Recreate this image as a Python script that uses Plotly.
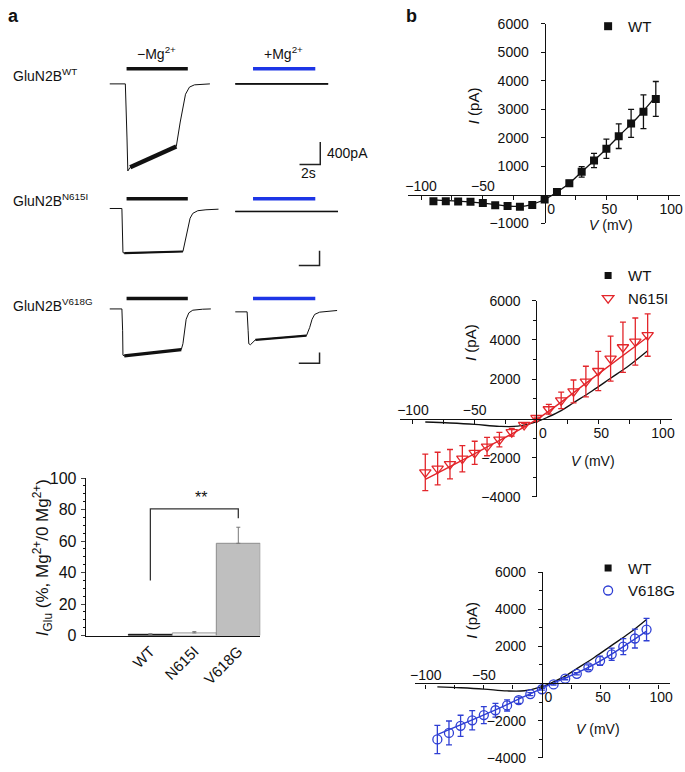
import plotly.graph_objects as go

W, H = 685, 772
FONT = "Liberation Sans, Arial, sans-serif"


def fx(x):
    return x / W


def fy(y):
    return 1 - y / H


# ---------------- DATA ----------------
# Panel a: current traces (time in s, current in pA)
WT_NOMG_T = [0, 1.50, 1.66, 1.74, 1.97, 6.41, 6.79, 7.05, 7.30, 7.68, 8.16, 9.65]
WT_NOMG_I = [0, 0, -962, -1548, -1483, -1113, -678, -388, -184, -57, -17, 0]
WT_MG_T = [0, 8.95]
WT_MG_I = [0, 0]

N615I_NOMG_T = [0, 1.17, 1.27, 1.40, 7.05, 7.30, 7.52, 7.74, 8.0, 8.48, 9.27, 10.48]
N615I_NOMG_I = [0, 0, -1200, -1219, -1173, -845, -488, -267, -133, -61, -35, -19]
N615I_MG_T = [0, 9.9]
N615I_MG_I = [0, 0]

V618G_NOMG_T = [0, 1.17, 1.24, 1.27, 1.40, 6.89, 7.05, 7.21, 7.36, 7.62, 8.0, 8.95, 9.74]
V618G_NOMG_I = [0, 0, -811, -1720, -1745, -1513, -1294, -811, -385, -145, -47, -11, 0]
V618G_MG_T = [0, 1.14, 1.24, 1.30, 1.46, 1.94, 6.86, 7.17, 7.40, 7.65, 8.13, 9.81]
V618G_MG_I = [0, 0, -702, -1185, -1222, -1040, -884, -582, -276, -95, -11, 51]

STIM_NOMG = [1.62, 7.52]   # s, application of glutamate without Mg2+
STIM_MG = [1.71, 7.71]     # s, application with Mg2+
SCALE_T = 2.0              # s
SCALE_I = 400              # pA

# Panel a: bar chart
BAR_CATS = ["WT", "N615I", "V618G"]
BAR_VALS = [0.8, 1.7, 58.6]
BAR_ERR = [0.3, 0.8, 10.2]

# Panel b: I-V relations
V_MV = [-90, -80, -70, -60, -50, -40, -30, -20, -10, 0, 10, 20, 30, 40, 50, 60, 70, 80, 90]
WT_I = [-230, -230, -240, -250, -290, -370, -400, -425, -360, -170, 90, 400, 800, 1200, 1610, 2050, 2500, 2910, 3360]
WT_ERR = [40, 40, 40, 40, 50, 50, 50, 60, 60, 60, 60, 100, 185, 250, 340, 430, 490, 590, 610]
N615I_I = [-2750, -2550, -2330, -2050, -1750, -1430, -1080, -700, -330, 30, 470, 920, 1380, 1880, 2420, 3050, 3630, 3920, 4250]
N615I_ERR = [930, 830, 750, 670, 590, 470, 370, 200, 80, 40, 250, 420, 580, 780, 1000, 1150, 1280, 1200, 1080]
V618G_I = [-3010, -2660, -2280, -1980, -1700, -1440, -1180, -900, -570, -310, -50, 260, 520, 870, 1220, 1570, 1980, 2420, 2900]
V618G_ERR = [760, 640, 570, 520, 460, 370, 300, 170, 80, 50, 40, 60, 60, 130, 250, 330, 430, 510, 600]

WT_FIT_V = [-90, -70, -50, -30, -15, 0, 10, 20, 30, 45, 60, 75, 90]
WT_FIT_I = [-180, -230, -300, -400, -390, -170, 90, 400, 800, 1400, 2050, 2700, 3450]
N615I_FIT_V = [-90, -45, 0, 45, 90]
N615I_FIT_I = [-3100, -1620, -60, 2030, 4150]
V618G_FIT_V = [-90, -45, 0, 45, 90]
V618G_FIT_I = [-2750, -1560, -260, 1030, 2820]

# ---------------- STYLE ----------------
RED = "#e3262b"
BLUE = "#2f3fd4"
STIM_BLUE = "#1d35e6"
BLACK = "#111111"
TICK_SIZE = 14

fig = go.Figure()
layout = dict(
    width=W, height=H, margin=dict(l=0, r=0, t=0, b=0),
    paper_bgcolor="white", plot_bgcolor="rgba(0,0,0,0)",
    font=dict(family=FONT, size=13, color=BLACK),
    showlegend=True,
)
annotations = []
shapes = []

# ---- panel a traces: 6 small invisible axes ----
PX_PER_S = 10.5
cells = [
    # (x dom px, x origin px, y dom px, y origin px, pA per px)
    ((100, 222), 106, (50, 178), 77.6, 400 / 23),
    ((226, 345), 233, (50, 178), 77.6, 400 / 23),
    ((100, 222), 106, (185, 272), 205.0, 400 / 15),
    ((226, 345), 233, (185, 272), 208.0, 400 / 15),
    ((100, 222), 106, (288, 372), 307.7, 400 / 11),
    ((226, 345), 233, (288, 372), 310.7, 400 / 11),
]
for n, (xd, x0, yd, y0, k) in enumerate(cells, start=1):
    layout[f"xaxis{n}"] = dict(
        domain=[fx(xd[0]), fx(xd[1])], anchor=f"y{n}",
        range=[(xd[0] - x0) / PX_PER_S, (xd[1] - x0) / PX_PER_S], visible=False)
    layout[f"yaxis{n}"] = dict(
        domain=[fy(yd[1]), fy(yd[0])], anchor=f"x{n}",
        range=[-(yd[1] - y0) * k, (y0 - yd[0]) * k], visible=False)

trace_sets = [
    (1, WT_NOMG_T, WT_NOMG_I, (4, 6), 4.5),
    (2, WT_MG_T, WT_MG_I, (0, 2), 1.8),
    (3, N615I_NOMG_T, N615I_NOMG_I, (3, 5), 2.2),
    (4, N615I_MG_T, N615I_MG_I, (0, 2), 1.5),
    (5, V618G_NOMG_T, V618G_NOMG_I, (4, 6), 3.2),
    (6, V618G_MG_T, V618G_MG_I, (5, 7), 2.4),
]
for n, t, i, (a, b), wnoise in trace_sets:
    fig.add_trace(go.Scatter(x=t, y=i, mode="lines", line=dict(color=BLACK, width=1),
                             xaxis=f"x{n}", yaxis=f"y{n}", showlegend=False, hoverinfo="skip"))
    fig.add_trace(go.Scatter(x=t[a:b], y=i[a:b], mode="lines", line=dict(color=BLACK, width=wnoise),
                             xaxis=f"x{n}", yaxis=f"y{n}", showlegend=False, hoverinfo="skip"))

# stimulus bars
bar_rows_y = [62, 195, 297]
for r, ypx in enumerate(bar_rows_y):
    nl, nr = 2 * r + 1, 2 * r + 2
    shapes.append(dict(type="line", xref=f"x{nl}", yref="paper", x0=STIM_NOMG[0], x1=STIM_NOMG[1],
                       y0=fy(ypx), y1=fy(ypx), line=dict(color=BLACK, width=3.5)))
    shapes.append(dict(type="line", xref=f"x{nr}", yref="paper", x0=STIM_MG[0], x1=STIM_MG[1],
                       y0=fy(ypx), y1=fy(ypx), line=dict(color=STIM_BLUE, width=3.5)))

# scale bars (corner position in data units of right-column axes)
scale_corners = [(2, 8.19, -1433), (4, 8.12, -1475), (6, 8.12, -1913)]
for n, tc, ic in scale_corners:
    fig.add_trace(go.Scatter(x=[tc - SCALE_T, tc, tc], y=[ic, ic, ic + SCALE_I], mode="lines",
                             line=dict(color="#222", width=1.5), xaxis=f"x{n}", yaxis=f"y{n}",
                             showlegend=False, hoverinfo="skip"))

annotations += [
    dict(text="<b>a</b>", x=fx(1), y=fy(8), xanchor="left", yanchor="middle", font=dict(size=18)),
    dict(text="<b>b</b>", x=fx(404), y=fy(8), xanchor="left", yanchor="middle", font=dict(size=18)),
    dict(text="\u2212Mg<sup>2+</sup>", x=fx(153), y=fy(46), xanchor="center", yanchor="middle", font=dict(size=14)),
    dict(text="+Mg<sup>2+</sup>", x=fx(282), y=fy(46), xanchor="center", yanchor="middle", font=dict(size=14)),
    dict(text="GluN2B<sup>WT</sup>", x=fx(6), y=fy(68), xanchor="left", yanchor="middle", font=dict(size=14)),
    dict(text="GluN2B<sup>N615I</sup>", x=fx(6), y=fy(196), xanchor="left", yanchor="middle", font=dict(size=14)),
    dict(text="GluN2B<sup>V618G</sup>", x=fx(6), y=fy(304), xanchor="left", yanchor="middle", font=dict(size=14)),
    dict(text="400pA", x=fx(324), y=fy(148), xanchor="left", yanchor="middle", font=dict(size=14)),
    dict(text="2s", x=fx(307), y=fy(169), xanchor="center", yanchor="middle", font=dict(size=14)),
]

# ---- bar chart ----
layout["xaxis7"] = dict(domain=[fx(81.7), fx(258.3)], anchor="y7", range=[-1.47, 2.5],
                        type="category", showline=True, linecolor=BLACK, linewidth=1.2,
                        ticks="", tickangle=-45, tickfont=dict(size=15), showgrid=False, zeroline=False)
layout["yaxis7"] = dict(domain=[fy(641.7), fy(480.7)], anchor="x7", range=[0, 100],
                        showline=True, linecolor=BLACK, linewidth=1.2, ticks="outside", ticklen=4,
                        tickvals=[0, 20, 40, 60, 80, 100], tickfont=dict(size=16), showgrid=False,
                        zeroline=False, ticklabelstandoff=1,
                        minor=dict(tickvals=[5, 10, 15, 25, 30, 35, 45, 50, 55, 65, 70, 75, 85, 90, 95],
                                   ticks="outside", ticklen=2, tickcolor=BLACK))
fig.add_trace(go.Bar(x=BAR_CATS, y=BAR_VALS, width=1, xaxis="x7", yaxis="y7", showlegend=False,
                     marker=dict(color=["#111111", "#f2f2f2", "#bfbfbf"],
                                 line=dict(color=["#111111", "#9a9a9a", "#8c8c8c"], width=1)),
                     error_y=dict(type="data", array=BAR_ERR, arrayminus=[0, 0, 0], color="#777",
                                  thickness=1, width=2),
                     hoverinfo="skip"))
fig.add_trace(go.Scatter(x=["WT", "WT", "V618G", "V618G"], y=[35, 80.4, 80.4, 74.5], mode="lines",
                         line=dict(color="#333", width=1.3), xaxis="x7", yaxis="y7",
                         showlegend=False, hoverinfo="skip"))
annotations += [
    dict(text="**", x=1.15, y=88, xref="x7", yref="y7", showarrow=False, font=dict(size=16),
         xanchor="center", yanchor="middle"),
    dict(text="<i>I</i><sub>Glu</sub> (%, Mg<sup>2+</sup>/0 Mg<sup>2+</sup>)", x=fx(38), y=fy(562),
         textangle=-90, xanchor="center", yanchor="middle", font=dict(size=17)),
]


# ---- panel b: I-V plots ----
def iv_axes(nx, ny, nover, xdom, ydom, xr, yr, x0px, y0px, ytv, ytt, yminor):
    layout[f"xaxis{nx}"] = dict(
        domain=[fx(xdom[0]), fx(xdom[1])], anchor="free", position=fy(y0px), range=xr,
        showline=True, linecolor=BLACK, linewidth=1.1, ticks="outside", ticklen=4, tickcolor=BLACK,
        tickvals=[0, 50, 100], ticktext=["\u20020", "50", "100"],
        tickfont=dict(size=TICK_SIZE), ticklabelshift=3,
        minor=dict(tickvals=[-100, -75, -50, -25, 25, 75], ticks="outside", ticklen=4, tickcolor=BLACK),
        showgrid=False, zeroline=False, ticklabelstandoff=-3)
    layout[f"xaxis{nover}"] = dict(
        overlaying=f"x{nx}", anchor="free", position=fy(y0px), side="top", range=xr,
        showline=False, ticks="", tickvals=[-100, -50], ticktext=["\u2212100", "\u221250"],
        tickfont=dict(size=TICK_SIZE), showgrid=False, zeroline=False, ticklabelstandoff=1)
    ydict = dict(
        domain=[fy(ydom[1]), fy(ydom[0])], anchor="free", position=fx(x0px), range=yr,
        showline=True, linecolor=BLACK, linewidth=1.1, ticks="outside", ticklen=4, tickcolor=BLACK,
        tickvals=ytv, ticktext=ytt, tickfont=dict(size=TICK_SIZE), showgrid=False, zeroline=False,
        ticklabelstandoff=9)
    if yminor:
        ydict["minor"] = dict(tickvals=yminor, ticks="outside", ticklen=3, tickcolor=BLACK)
    layout[f"yaxis{ny}"] = ydict
    fig.add_trace(go.Scatter(x=[None], y=[None], xaxis=f"x{nover}", yaxis=f"y{ny}",
                             showlegend=False, hoverinfo="skip"))


# IV plot 1
iv_axes(8, 8, 9, (408, 683), (16, 220), [-110.4, 109.6], [-1000, 6000], 546, 191,
        [-1000, 1000, 2000, 3000, 4000, 5000, 6000],
        ["\u22121000", "1000", "2000", "3000", "4000", "5000", "6000"], None)
# IV plot 2
iv_axes(10, 10, 11, (400, 675), (299.3, 500), [-110.2, 109.8], [-4000, 6000], 537.7, 420,
        [-4000, -2000, 2000, 4000, 6000], ["\u22124000", "\u22122000", "2000", "4000", "6000"],
        [-3000, -1000, 1000, 3000, 5000])
# IV plot 3
iv_axes(12, 12, 13, (415, 673), (576.7, 766.7), [-109.1, 110.3], [-4000, 6000], 543.3, 690.7,
        [-4000, -2000, 2000, 4000, 6000], ["\u22124000", "\u22122000", "2000", "4000", "6000"],
        [-3000, -1000, 1000, 3000, 5000])

err_style = dict(type="data", thickness=1.3, width=3)

# plot 1: WT
fig.add_trace(go.Scatter(x=WT_FIT_V, y=WT_FIT_I, mode="lines", line=dict(color=BLACK, width=1.3, shape="spline"),
                         xaxis="x8", yaxis="y8", showlegend=False, hoverinfo="skip"))
fig.add_trace(go.Scatter(x=V_MV, y=WT_I, mode="markers", name="WT", legend="legend",
                         marker=dict(symbol="square", size=8, color=BLACK),
                         error_y=dict(array=WT_ERR, color=BLACK, **err_style),
                         xaxis="x8", yaxis="y8"))

# plot 2: WT fit + N615I
fig.add_trace(go.Scatter(x=WT_FIT_V, y=WT_FIT_I, mode="lines", line=dict(color=BLACK, width=1.3, shape="spline"),
                         xaxis="x10", yaxis="y10", showlegend=False, hoverinfo="skip"))
fig.add_trace(go.Scatter(x=[None], y=[None], mode="markers", name="WT", legend="legend2",
                         marker=dict(symbol="square", size=7, color=BLACK), xaxis="x10", yaxis="y10"))
fig.add_trace(go.Scatter(x=N615I_FIT_V, y=N615I_FIT_I, mode="lines", line=dict(color=RED, width=1.4, shape="spline"),
                         xaxis="x10", yaxis="y10", showlegend=False, hoverinfo="skip"))
fig.add_trace(go.Scatter(x=V_MV, y=N615I_I, mode="markers", name="N615I", legend="legend2",
                         marker=dict(symbol="triangle-down-open", size=10, color=RED, line=dict(width=1.3)),
                         error_y=dict(array=N615I_ERR, color=RED, **err_style),
                         xaxis="x10", yaxis="y10"))

# plot 3: WT fit + V618G
fig.add_trace(go.Scatter(x=WT_FIT_V, y=WT_FIT_I, mode="lines", line=dict(color=BLACK, width=1.3, shape="spline"),
                         xaxis="x12", yaxis="y12", showlegend=False, hoverinfo="skip"))
fig.add_trace(go.Scatter(x=[None], y=[None], mode="markers", name="WT", legend="legend3",
                         marker=dict(symbol="square", size=7, color=BLACK), xaxis="x12", yaxis="y12"))
fig.add_trace(go.Scatter(x=V618G_FIT_V, y=V618G_FIT_I, mode="lines", line=dict(color=BLUE, width=1.4, shape="spline"),
                         xaxis="x12", yaxis="y12", showlegend=False, hoverinfo="skip"))
fig.add_trace(go.Scatter(x=V_MV, y=V618G_I, mode="markers", name="V618G", legend="legend3",
                         marker=dict(symbol="circle-open", size=9, color=BLUE, line=dict(width=1.3)),
                         error_y=dict(array=V618G_ERR, color=BLUE, **err_style),
                         xaxis="x12", yaxis="y12"))

leg_common = dict(bgcolor="rgba(0,0,0,0)", borderwidth=0, font=dict(size=15), xanchor="left",
                  yanchor="top", itemwidth=30, tracegroupgap=0)
layout["legend"] = dict(x=fx(590), y=fy(2), **leg_common)
layout["legend2"] = dict(x=fx(590), y=fy(257), **leg_common)
layout["legend3"] = dict(x=fx(590), y=fy(556), **leg_common)

for ix, iy, vx, vy in [(474, 100, 613, 222), (471, 342, 595, 463), (472, 626, 600, 737)]:
    annotations.append(dict(text="<i>I</i> (pA)", x=fx(ix), y=fy(iy), textangle=-90,
                            xanchor="center", yanchor="middle", font=dict(size=15)))
    annotations.append(dict(text="<i>V</i> (mV)", x=fx(vx), y=fy(vy),
                            xanchor="center", yanchor="middle", font=dict(size=14)))

for a in annotations:
    a.setdefault("xref", "paper")
    a.setdefault("yref", "paper")
    a.setdefault("showarrow", False)

layout["annotations"] = annotations
layout["shapes"] = shapes
fig.update_layout(**layout)
fig.write_html("out.html", config={"displayModeBar": False},
               post_script="document.body.style.margin='0';document.body.style.overflow='hidden';")
